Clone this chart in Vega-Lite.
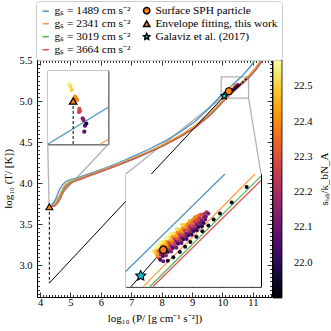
{
  "$schema": "https://vega.github.io/schema/vega-lite/v6.json",
  "autosize": {"type": "none"},
  "padding": {"left": 37, "top": 60, "right": 59, "bottom": 34},
  "width": 235,
  "height": 237,
  "config": {
    "view": {"stroke": null},
    "font": "Liberation Serif",
    "axis": {"grid": false, "domainColor": "black", "tickColor": "black", "labelColor": "black", "titleColor": "black", "labelFont": "Liberation Serif", "titleFont": "Liberation Serif", "labelFontSize": 10.5, "titleFontSize": 11, "titleFontWeight": "normal", "domainWidth": 1, "tickWidth": 0.8}
  },
  "datasets": {
    "curves": [
      {"series": "gₛ = 1489 cm s⁻²", "x": 4.295, "y": 3.703}, {"series": "gₛ = 1489 cm s⁻²", "x": 4.38, "y": 3.72}, {"series": "gₛ = 1489 cm s⁻²", "x": 4.46, "y": 3.76}, {"series": "gₛ = 1489 cm s⁻²", "x": 4.52, "y": 3.81}, {"series": "gₛ = 1489 cm s⁻²", "x": 4.58, "y": 3.87}, {"series": "gₛ = 1489 cm s⁻²", "x": 4.65, "y": 3.93}, {"series": "gₛ = 1489 cm s⁻²", "x": 4.74, "y": 3.98}, {"series": "gₛ = 1489 cm s⁻²", "x": 4.86, "y": 4.02}, {"series": "gₛ = 1489 cm s⁻²", "x": 5.0, "y": 4.04}, {"series": "gₛ = 1489 cm s⁻²", "x": 5.2, "y": 4.06}, {"series": "gₛ = 1489 cm s⁻²", "x": 5.6, "y": 4.11}, {"series": "gₛ = 1489 cm s⁻²", "x": 6.1, "y": 4.175}, {"series": "gₛ = 1489 cm s⁻²", "x": 6.6, "y": 4.25}, {"series": "gₛ = 1489 cm s⁻²", "x": 7.1, "y": 4.33}, {"series": "gₛ = 1489 cm s⁻²", "x": 7.6, "y": 4.415}, {"series": "gₛ = 1489 cm s⁻²", "x": 8.1, "y": 4.51}, {"series": "gₛ = 1489 cm s⁻²", "x": 8.6, "y": 4.62}, {"series": "gₛ = 1489 cm s⁻²", "x": 9.1, "y": 4.75}, {"series": "gₛ = 1489 cm s⁻²", "x": 9.5, "y": 4.89}, {"series": "gₛ = 1489 cm s⁻²", "x": 9.96, "y": 5.07}, {"series": "gₛ = 1489 cm s⁻²", "x": 10.62, "y": 5.295}, {"series": "gₛ = 1489 cm s⁻²", "x": 10.85, "y": 5.39}, {"series": "gₛ = 1489 cm s⁻²", "x": 11.08, "y": 5.5},
      {"series": "gₛ = 2341 cm s⁻²", "x": 4.3, "y": 3.705}, {"series": "gₛ = 2341 cm s⁻²", "x": 4.42, "y": 3.72}, {"series": "gₛ = 2341 cm s⁻²", "x": 4.52, "y": 3.76}, {"series": "gₛ = 2341 cm s⁻²", "x": 4.59, "y": 3.81}, {"series": "gₛ = 2341 cm s⁻²", "x": 4.66, "y": 3.87}, {"series": "gₛ = 2341 cm s⁻²", "x": 4.73, "y": 3.93}, {"series": "gₛ = 2341 cm s⁻²", "x": 4.82, "y": 3.975}, {"series": "gₛ = 2341 cm s⁻²", "x": 4.94, "y": 4.01}, {"series": "gₛ = 2341 cm s⁻²", "x": 5.1, "y": 4.035}, {"series": "gₛ = 2341 cm s⁻²", "x": 5.3, "y": 4.06}, {"series": "gₛ = 2341 cm s⁻²", "x": 5.6, "y": 4.1}, {"series": "gₛ = 2341 cm s⁻²", "x": 6.1, "y": 4.165}, {"series": "gₛ = 2341 cm s⁻²", "x": 6.6, "y": 4.235}, {"series": "gₛ = 2341 cm s⁻²", "x": 7.1, "y": 4.31}, {"series": "gₛ = 2341 cm s⁻²", "x": 7.6, "y": 4.39}, {"series": "gₛ = 2341 cm s⁻²", "x": 8.1, "y": 4.48}, {"series": "gₛ = 2341 cm s⁻²", "x": 8.6, "y": 4.58}, {"series": "gₛ = 2341 cm s⁻²", "x": 9.1, "y": 4.7}, {"series": "gₛ = 2341 cm s⁻²", "x": 9.6, "y": 4.86}, {"series": "gₛ = 2341 cm s⁻²", "x": 10.077, "y": 5.035}, {"series": "gₛ = 2341 cm s⁻²", "x": 10.5, "y": 5.182}, {"series": "gₛ = 2341 cm s⁻²", "x": 10.82, "y": 5.295}, {"series": "gₛ = 2341 cm s⁻²", "x": 11.05, "y": 5.39}, {"series": "gₛ = 2341 cm s⁻²", "x": 11.27, "y": 5.5},
      {"series": "gₛ = 3019 cm s⁻²", "x": 4.305, "y": 3.705}, {"series": "gₛ = 3019 cm s⁻²", "x": 4.46, "y": 3.72}, {"series": "gₛ = 3019 cm s⁻²", "x": 4.56, "y": 3.76}, {"series": "gₛ = 3019 cm s⁻²", "x": 4.63, "y": 3.81}, {"series": "gₛ = 3019 cm s⁻²", "x": 4.7, "y": 3.87}, {"series": "gₛ = 3019 cm s⁻²", "x": 4.77, "y": 3.925}, {"series": "gₛ = 3019 cm s⁻²", "x": 4.86, "y": 3.97}, {"series": "gₛ = 3019 cm s⁻²", "x": 4.98, "y": 4.005}, {"series": "gₛ = 3019 cm s⁻²", "x": 5.14, "y": 4.03}, {"series": "gₛ = 3019 cm s⁻²", "x": 5.34, "y": 4.055}, {"series": "gₛ = 3019 cm s⁻²", "x": 5.6, "y": 4.09}, {"series": "gₛ = 3019 cm s⁻²", "x": 6.1, "y": 4.155}, {"series": "gₛ = 3019 cm s⁻²", "x": 6.6, "y": 4.225}, {"series": "gₛ = 3019 cm s⁻²", "x": 7.1, "y": 4.3}, {"series": "gₛ = 3019 cm s⁻²", "x": 7.6, "y": 4.38}, {"series": "gₛ = 3019 cm s⁻²", "x": 8.1, "y": 4.465}, {"series": "gₛ = 3019 cm s⁻²", "x": 8.6, "y": 4.565}, {"series": "gₛ = 3019 cm s⁻²", "x": 9.1, "y": 4.68}, {"series": "gₛ = 3019 cm s⁻²", "x": 9.6, "y": 4.835}, {"series": "gₛ = 3019 cm s⁻²", "x": 10.12, "y": 5.035}, {"series": "gₛ = 3019 cm s⁻²", "x": 10.86, "y": 5.29}, {"series": "gₛ = 3019 cm s⁻²", "x": 11.08, "y": 5.38}, {"series": "gₛ = 3019 cm s⁻²", "x": 11.3, "y": 5.5},
      {"series": "gₛ = 3664 cm s⁻²", "x": 4.31, "y": 3.705}, {"series": "gₛ = 3664 cm s⁻²", "x": 4.49, "y": 3.72}, {"series": "gₛ = 3664 cm s⁻²", "x": 4.59, "y": 3.76}, {"series": "gₛ = 3664 cm s⁻²", "x": 4.67, "y": 3.81}, {"series": "gₛ = 3664 cm s⁻²", "x": 4.74, "y": 3.87}, {"series": "gₛ = 3664 cm s⁻²", "x": 4.81, "y": 3.92}, {"series": "gₛ = 3664 cm s⁻²", "x": 4.9, "y": 3.965}, {"series": "gₛ = 3664 cm s⁻²", "x": 5.02, "y": 4.0}, {"series": "gₛ = 3664 cm s⁻²", "x": 5.18, "y": 4.025}, {"series": "gₛ = 3664 cm s⁻²", "x": 5.38, "y": 4.05}, {"series": "gₛ = 3664 cm s⁻²", "x": 5.6, "y": 4.085}, {"series": "gₛ = 3664 cm s⁻²", "x": 6.1, "y": 4.15}, {"series": "gₛ = 3664 cm s⁻²", "x": 6.6, "y": 4.22}, {"series": "gₛ = 3664 cm s⁻²", "x": 7.1, "y": 4.295}, {"series": "gₛ = 3664 cm s⁻²", "x": 7.6, "y": 4.375}, {"series": "gₛ = 3664 cm s⁻²", "x": 8.1, "y": 4.46}, {"series": "gₛ = 3664 cm s⁻²", "x": 8.6, "y": 4.56}, {"series": "gₛ = 3664 cm s⁻²", "x": 9.1, "y": 4.675}, {"series": "gₛ = 3664 cm s⁻²", "x": 9.6, "y": 4.825}, {"series": "gₛ = 3664 cm s⁻²", "x": 10.14, "y": 5.035}, {"series": "gₛ = 3664 cm s⁻²", "x": 10.86, "y": 5.28}, {"series": "gₛ = 3664 cm s⁻²", "x": 11.1, "y": 5.38}, {"series": "gₛ = 3664 cm s⁻²", "x": 11.33, "y": 5.5}
    ],
    "inset1_lines": [
      {"series": "gₛ = 1489 cm s⁻²", "x": 4.2976, "y": 3.7047}, {"series": "gₛ = 1489 cm s⁻²", "x": 4.3176, "y": 3.70923},
      {"series": "gₛ = 2341 cm s⁻²", "x": 4.31486, "y": 3.7047}, {"series": "gₛ = 2341 cm s⁻²", "x": 4.3176, "y": 3.70531}
    ],
    "inset2_lines": [
      {"series": "gₛ = 1489 cm s⁻²", "x": 9.96, "y": 5.07}, {"series": "gₛ = 1489 cm s⁻²", "x": 10.62, "y": 5.295},
      {"series": "gₛ = 2341 cm s⁻²", "x": 10.077, "y": 5.035}, {"series": "gₛ = 2341 cm s⁻²", "x": 10.82, "y": 5.295},
      {"series": "gₛ = 3019 cm s⁻²", "x": 10.12, "y": 5.035}, {"series": "gₛ = 3019 cm s⁻²", "x": 10.86, "y": 5.29},
      {"series": "gₛ = 3664 cm s⁻²", "x": 10.14, "y": 5.035}, {"series": "gₛ = 3664 cm s⁻²", "x": 10.86, "y": 5.28}
    ],
    "adiabat": [{"x": 4.306, "y": 2.78}, {"x": 10.21, "y": 5.12}],
    "inset2_adiabat": [{"x": 9.995, "y": 5.035}, {"x": 10.21, "y": 5.12}],
    "dashed": [{"x": 4.306, "y": 3.71}, {"x": 4.306, "y": 2.78}],
    "inset1_dashed": [{"x": 4.306, "y": 3.71}, {"x": 4.306, "y": 3.7047}],
    "markers": [
      {"label": "Surface SPH particle", "x": 10.21, "y": 5.12},
      {"label": "Envelope fitting, this work", "x": 4.306, "y": 3.71},
      {"label": "Galaviz et al. (2017)", "x": 10.06, "y": 5.06}
    ],
    "boxes": [
      {"box": "a", "x0": 4.2976, "x1": 4.3176, "y0": 3.7047, "y1": 3.7137},
      {"box": "b", "x0": 9.96, "x1": 10.86, "y0": 5.035, "y1": 5.295}
    ],
    "connectors": [
      {"id": "a", "x": 4.253, "y": 4.472}, {"id": "a", "x": 4.2976, "y": 3.7137},
      {"id": "b", "x": 6.247, "y": 4.472}, {"id": "b", "x": 4.3176, "y": 3.7137},
      {"id": "c", "x": 9.96, "y": 5.035}, {"id": "c", "x": 6.819, "y": 4.11},
      {"id": "d", "x": 10.86, "y": 5.035}, {"id": "d", "x": 11.27, "y": 4.11}
    ],
    "scatter": [
      {"x": 10.150, "y": 5.117, "s": 22.52}, {"x": 10.163, "y": 5.112, "s": 22.47}, {"x": 10.172, "y": 5.106, "s": 22.40}, {"x": 10.183, "y": 5.100, "s": 22.30},
      {"x": 10.178, "y": 5.130, "s": 22.55}, {"x": 10.192, "y": 5.122, "s": 22.48}, {"x": 10.205, "y": 5.118, "s": 22.40}, {"x": 10.216, "y": 5.111, "s": 22.30}, {"x": 10.228, "y": 5.107, "s": 22.18},
      {"x": 10.212, "y": 5.139, "s": 22.53}, {"x": 10.224, "y": 5.133, "s": 22.46}, {"x": 10.240, "y": 5.127, "s": 22.37}, {"x": 10.251, "y": 5.121, "s": 22.27}, {"x": 10.262, "y": 5.116, "s": 22.15},
      {"x": 10.246, "y": 5.149, "s": 22.54}, {"x": 10.259, "y": 5.142, "s": 22.45}, {"x": 10.273, "y": 5.137, "s": 22.35}, {"x": 10.285, "y": 5.131, "s": 22.24}, {"x": 10.297, "y": 5.125, "s": 22.12},
      {"x": 10.280, "y": 5.158, "s": 22.52}, {"x": 10.294, "y": 5.152, "s": 22.43}, {"x": 10.307, "y": 5.146, "s": 22.33}, {"x": 10.318, "y": 5.141, "s": 22.22}, {"x": 10.331, "y": 5.136, "s": 22.08},
      {"x": 10.315, "y": 5.167, "s": 22.50}, {"x": 10.327, "y": 5.162, "s": 22.41}, {"x": 10.341, "y": 5.156, "s": 22.31}, {"x": 10.353, "y": 5.151, "s": 22.20}, {"x": 10.365, "y": 5.145, "s": 22.05},
      {"x": 10.350, "y": 5.177, "s": 22.47}, {"x": 10.362, "y": 5.171, "s": 22.39}, {"x": 10.375, "y": 5.166, "s": 22.29}, {"x": 10.387, "y": 5.160, "s": 22.17}, {"x": 10.399, "y": 5.155, "s": 22.02},
      {"x": 10.385, "y": 5.186, "s": 22.44}, {"x": 10.396, "y": 5.181, "s": 22.36}, {"x": 10.409, "y": 5.175, "s": 22.26}, {"x": 10.421, "y": 5.170, "s": 22.14}, {"x": 10.433, "y": 5.165, "s": 22.00},
      {"x": 10.420, "y": 5.195, "s": 22.40}, {"x": 10.431, "y": 5.190, "s": 22.33}, {"x": 10.443, "y": 5.185, "s": 22.23}, {"x": 10.455, "y": 5.180, "s": 22.11}, {"x": 10.467, "y": 5.174, "s": 21.98},
      {"x": 10.458, "y": 5.201, "s": 22.30}, {"x": 10.477, "y": 5.195, "s": 22.20}, {"x": 10.489, "y": 5.190, "s": 22.08},
      {"x": 10.497, "y": 5.207, "s": 22.22}, {"x": 10.510, "y": 5.204, "s": 22.12},
      {"x": 10.168, "y": 5.121, "s": 22.44}, {"x": 10.181, "y": 5.116, "s": 22.31}, {"x": 10.193, "y": 5.110, "s": 22.19}, {"x": 10.206, "y": 5.105, "s": 22.06},
      {"x": 10.202, "y": 5.131, "s": 22.43}, {"x": 10.215, "y": 5.126, "s": 22.30}, {"x": 10.227, "y": 5.120, "s": 22.18}, {"x": 10.240, "y": 5.115, "s": 22.05},
      {"x": 10.236, "y": 5.140, "s": 22.42}, {"x": 10.249, "y": 5.135, "s": 22.29}, {"x": 10.261, "y": 5.129, "s": 22.17}, {"x": 10.274, "y": 5.124, "s": 22.04},
      {"x": 10.270, "y": 5.150, "s": 22.41}, {"x": 10.283, "y": 5.145, "s": 22.28}, {"x": 10.295, "y": 5.139, "s": 22.16}, {"x": 10.308, "y": 5.134, "s": 22.03},
      {"x": 10.304, "y": 5.160, "s": 22.40}, {"x": 10.317, "y": 5.155, "s": 22.27}, {"x": 10.329, "y": 5.149, "s": 22.15}, {"x": 10.342, "y": 5.144, "s": 22.02},
      {"x": 10.338, "y": 5.169, "s": 22.40}, {"x": 10.351, "y": 5.164, "s": 22.27}, {"x": 10.363, "y": 5.158, "s": 22.15}, {"x": 10.376, "y": 5.153, "s": 22.02},
      {"x": 10.372, "y": 5.179, "s": 22.39}, {"x": 10.385, "y": 5.174, "s": 22.26}, {"x": 10.397, "y": 5.168, "s": 22.14}, {"x": 10.410, "y": 5.163, "s": 22.01},
      {"x": 10.406, "y": 5.189, "s": 22.38}, {"x": 10.419, "y": 5.184, "s": 22.25}, {"x": 10.431, "y": 5.178, "s": 22.13}, {"x": 10.444, "y": 5.173, "s": 22.00},
      {"x": 10.440, "y": 5.198, "s": 22.37}, {"x": 10.453, "y": 5.193, "s": 22.24}, {"x": 10.465, "y": 5.187, "s": 22.12}, {"x": 10.478, "y": 5.182, "s": 21.99},
      {"x": 10.481, "y": 5.203, "s": 22.23}, {"x": 10.493, "y": 5.197, "s": 22.11},
      {"x": 10.160, "y": 5.125, "s": 22.56}, {"x": 10.195, "y": 5.137, "s": 22.55}, {"x": 10.230, "y": 5.147, "s": 22.56}, {"x": 10.262, "y": 5.157, "s": 22.54}, {"x": 10.300, "y": 5.168, "s": 22.52}, {"x": 10.335, "y": 5.178, "s": 22.50},
      {"x": 10.24, "y": 5.095, "s": 21.95}, {"x": 10.277, "y": 5.103, "s": 21.93}, {"x": 10.32, "y": 5.115, "s": 21.96}, {"x": 10.355, "y": 5.127, "s": 21.94}, {"x": 10.39, "y": 5.138, "s": 21.92}, {"x": 10.43, "y": 5.15, "s": 21.95}, {"x": 10.47, "y": 5.163, "s": 21.93}, {"x": 10.51, "y": 5.176, "s": 21.94}, {"x": 10.545, "y": 5.19, "s": 21.92}, {"x": 10.587, "y": 5.204, "s": 21.93}, {"x": 10.665, "y": 5.229, "s": 21.92}, {"x": 10.765, "y": 5.265, "s": 21.93},
      {"x": 10.19, "y": 5.097, "s": 22.05}, {"x": 10.21, "y": 5.094, "s": 22.1},
      {"x": 4.30473, "y": 3.71207, "s": 22.55}, {"x": 4.30552, "y": 3.71134, "s": 22.5}, {"x": 4.30512, "y": 3.71177, "s": 22.52}, {"x": 4.30661, "y": 3.71052, "s": 22.42}, {"x": 4.30694, "y": 3.71036, "s": 22.4}, {"x": 4.30727, "y": 3.71012, "s": 22.38}, {"x": 4.30803, "y": 3.70902, "s": 22.3}, {"x": 4.30826, "y": 3.70877, "s": 22.28}, {"x": 4.30793, "y": 3.70865, "s": 22.27}, {"x": 4.30915, "y": 3.70788, "s": 22.15}, {"x": 4.30942, "y": 3.70767, "s": 22.13}, {"x": 4.30991, "y": 3.70697, "s": 22.05}, {"x": 4.31034, "y": 3.70724, "s": 21.98}, {"x": 4.30968, "y": 3.70624, "s": 22.08}
    ]
  },
  "layer": [
    {
      "layer": [
        {
          "data": {"name": "boxes"},
          "mark": {"type": "rect", "fillOpacity": 0, "stroke": "#b3b3b3", "strokeWidth": 1.3},
          "encoding": {
            "x": {"field": "x0", "type": "quantitative", "scale": {"domain": [3.9, 11.63], "nice": false, "zero": false}, "axis": {"orient": "top", "values": [4.1,4.2,4.3,4.4,4.5,4.6,4.7,4.8,4.9,5.1,5.2,5.3,5.4,5.5,5.6,5.7,5.8,5.9,6.1,6.2,6.3,6.4,6.5,6.6,6.7,6.8,6.9,7.1,7.2,7.3,7.4,7.5,7.6,7.7,7.8,7.9,8.1,8.2,8.3,8.4,8.5,8.6,8.7,8.8,8.9,9.1,9.2,9.3,9.4,9.5,9.6,9.7,9.8,9.9,10.1,10.2,10.3,10.4,10.5,10.6,10.7,10.8,10.9,11.1,11.2,11.3,11.4,11.5,11.6], "labels": false, "tickSize": -2.5, "domain": false, "title": null}},
            "x2": {"field": "x1"},
            "y": {"field": "y0", "type": "quantitative", "scale": {"domain": [2.61, 5.5], "nice": false, "zero": false}, "axis": {"orient": "right", "values": [2.65,2.7,2.75,2.8,2.85,2.9,2.95,3.05,3.1,3.15,3.2,3.25,3.3,3.35,3.4,3.45,3.55,3.6,3.65,3.7,3.75,3.8,3.85,3.9,3.95,4.05,4.1,4.15,4.2,4.25,4.3,4.35,4.4,4.45,4.55,4.6,4.65,4.7,4.75,4.8,4.85,4.9,4.95,5.05,5.1,5.15,5.2,5.25,5.3,5.35,5.4,5.45], "labels": false, "tickSize": -2.5, "domain": false, "title": null}},
            "y2": {"field": "y1"}
          }
        },
        {
          "data": {"name": "connectors"},
          "mark": {"type": "line", "stroke": "#b3b3b3", "strokeWidth": 1.3},
          "encoding": {
            "x": {"field": "x", "type": "quantitative", "scale": {"domain": [3.9, 11.63], "nice": false, "zero": false}, "axis": {"orient": "top", "values": [4,5,6,7,8,9,10,11], "labels": false, "tickSize": -5, "title": null}},
            "y": {"field": "y", "type": "quantitative", "scale": {"domain": [2.61, 5.5], "nice": false, "zero": false}, "axis": {"orient": "right", "values": [3,3.5,4,4.5,5,5.5], "labels": false, "tickSize": -5, "title": "sᵢ,ₛ/k_bN_A", "titleAngle": 270, "titlePadding": 57, "titleFontSize": 11}},
            "detail": {"field": "id"}
          }
        },
        {
          "data": {"name": "curves"},
          "mark": {"type": "line", "strokeWidth": 1.3},
          "encoding": {
            "x": {"field": "x", "type": "quantitative", "scale": {"domain": [3.9, 11.63], "nice": false, "zero": false}, "axis": {"orient": "bottom", "values": [4,5,6,7,8,9,10,11], "format": "d", "tickSize": -5, "labelPadding": 5, "title": "log₁₀ (P/ [g cm⁻¹ s⁻²])", "titlePadding": 5}},
            "y": {"field": "y", "type": "quantitative", "scale": {"domain": [2.61, 5.5], "nice": false, "zero": false}, "axis": {"orient": "left", "values": [3,3.5,4,4.5,5,5.5], "format": ".1f", "tickSize": -5, "labelPadding": 10, "title": "log₁₀ (T/ [K])", "titlePadding": 5}},
            "detail": {"field": "series"},
            "stroke": {"condition": [{"test": "indexof(datum.series, '1489') > 0", "value": "#4c92c3"}, {"test": "indexof(datum.series, '2341') > 0", "value": "#ff993e"}, {"test": "indexof(datum.series, '3019') > 0", "value": "#56b356"}], "value": "#de5253"}
          }
        },
        {
          "data": {"name": "adiabat"},
          "mark": {"type": "line", "color": "black", "strokeWidth": 1},
          "encoding": {
            "x": {"field": "x", "type": "quantitative", "scale": {"domain": [3.9, 11.63], "nice": false, "zero": false}, "axis": {"orient": "bottom", "values": [4.1,4.2,4.3,4.4,4.5,4.6,4.7,4.8,4.9,5.1,5.2,5.3,5.4,5.5,5.6,5.7,5.8,5.9,6.1,6.2,6.3,6.4,6.5,6.6,6.7,6.8,6.9,7.1,7.2,7.3,7.4,7.5,7.6,7.7,7.8,7.9,8.1,8.2,8.3,8.4,8.5,8.6,8.7,8.8,8.9,9.1,9.2,9.3,9.4,9.5,9.6,9.7,9.8,9.9,10.1,10.2,10.3,10.4,10.5,10.6,10.7,10.8,10.9,11.1,11.2,11.3,11.4,11.5,11.6], "labels": false, "tickSize": -2.5, "domain": false, "title": null}},
            "y": {"field": "y", "type": "quantitative", "scale": {"domain": [2.61, 5.5], "nice": false, "zero": false}, "axis": {"orient": "left", "values": [2.65,2.7,2.75,2.8,2.85,2.9,2.95,3.05,3.1,3.15,3.2,3.25,3.3,3.35,3.4,3.45,3.55,3.6,3.65,3.7,3.75,3.8,3.85,3.9,3.95,4.05,4.1,4.15,4.2,4.25,4.3,4.35,4.4,4.45,4.55,4.6,4.65,4.7,4.75,4.8,4.85,4.9,4.95,5.05,5.1,5.15,5.2,5.25,5.3,5.35,5.4,5.45], "labels": false, "tickSize": -2.5, "domain": false, "title": null}}
          }
        },
        {
          "data": {"name": "dashed"},
          "mark": {"type": "line", "color": "black", "strokeWidth": 1, "strokeDash": [3, 2]},
          "encoding": {
            "x": {"field": "x", "type": "quantitative", "scale": {"domain": [3.9, 11.63], "nice": false, "zero": false}, "axis": null},
            "y": {"field": "y", "type": "quantitative", "scale": {"domain": [2.61, 5.5], "nice": false, "zero": false}, "axis": null}
          }
        },
        {
          "data": {"name": "scatter"},
          "mark": {"type": "circle", "size": 4, "opacity": 1},
          "encoding": {
            "x": {"field": "x", "type": "quantitative", "scale": {"domain": [3.9, 11.63], "nice": false, "zero": false}, "axis": null},
            "y": {"field": "y", "type": "quantitative", "scale": {"domain": [2.61, 5.5], "nice": false, "zero": false}, "axis": null},
            "fill": {"field": "s", "type": "quantitative", "scale": {"scheme": "inferno", "domain": [21.9, 22.575], "nice": false, "zero": false},
              "legend": {"orient": "none", "legendX": 236, "legendY": 0, "direction": "vertical", "gradientLength": 238, "gradientThickness": 9, "gradientStrokeColor": "black", "gradientStrokeWidth": 0.8, "values": [22.0, 22.1, 22.2, 22.3, 22.4, 22.5], "format": ".1f", "labelFont": "Liberation Serif", "labelFontSize": 10.5, "labelColor": "black", "labelOffset": 12, "title": null}}
          }
        },
        {
          "data": {"name": "markers"},
          "mark": {"type": "point", "filled": true, "strokeWidth": 1.1, "opacity": 1},
          "encoding": {
            "x": {"field": "x", "type": "quantitative", "scale": {"domain": [3.9, 11.63], "nice": false, "zero": false}, "axis": null},
            "y": {"field": "y", "type": "quantitative", "scale": {"domain": [2.61, 5.5], "nice": false, "zero": false}, "axis": null},
            "color": {"field": "label", "type": "nominal",
              "scale": {"domain": ["gₛ = 1489 cm s⁻²", "gₛ = 2341 cm s⁻²", "gₛ = 3019 cm s⁻²", "gₛ = 3664 cm s⁻²", "Surface SPH particle", "Envelope fitting, this work", "Galaviz et al. (2017)"], "range": ["#ffffff", "#ffffff", "#ffffff", "#ffffff", "#ff7f0e", "#ff7f0e", "#17becf"]},
              "legend": {"orient": "none", "legendX": -1, "legendY": -59, "columns": 2, "columnPadding": 9, "rowPadding": 0, "padding": 4, "strokeColor": "#cccccc", "fillColor": "white", "cornerRadius": 3, "labelFont": "Liberation Serif", "labelFontSize": 11.4, "labelColor": "black", "labelOffset": 3, "symbolSize": 40, "symbolStrokeWidth": 1.5, "title": null}},
            "stroke": {"field": "label", "type": "nominal",
              "scale": {"domain": ["gₛ = 1489 cm s⁻²", "gₛ = 2341 cm s⁻²", "gₛ = 3019 cm s⁻²", "gₛ = 3664 cm s⁻²", "Surface SPH particle", "Envelope fitting, this work", "Galaviz et al. (2017)"], "range": ["#4c92c3", "#ff993e", "#56b356", "#de5253", "#000000", "#000000", "#000000"]},
              "legend": {"orient": "none", "legendX": -1, "legendY": -59, "columns": 2, "columnPadding": 9, "rowPadding": 0, "padding": 4, "strokeColor": "#cccccc", "fillColor": "white", "cornerRadius": 3, "labelFont": "Liberation Serif", "labelFontSize": 11.4, "labelColor": "black", "labelOffset": 3, "symbolSize": 40, "symbolStrokeWidth": 1.5, "title": null}},
            "shape": {"field": "label", "type": "nominal",
              "scale": {"domain": ["gₛ = 1489 cm s⁻²", "gₛ = 2341 cm s⁻²", "gₛ = 3019 cm s⁻²", "gₛ = 3664 cm s⁻²", "Surface SPH particle", "Envelope fitting, this work", "Galaviz et al. (2017)"], "range": ["stroke", "stroke", "stroke", "stroke", "circle", "triangle-up", "M0,-1L0.2939,-0.4045L0.9511,-0.309L0.4755,0.1545L0.5878,0.809L0,0.5L-0.5878,0.809L-0.4755,0.1545L-0.9511,-0.309L-0.2939,-0.4045Z"]},
              "legend": {"orient": "none", "legendX": -1, "legendY": -59, "columns": 2, "columnPadding": 9, "rowPadding": 0, "padding": 4, "strokeColor": "#cccccc", "fillColor": "white", "cornerRadius": 3, "labelFont": "Liberation Serif", "labelFontSize": 11.4, "labelColor": "black", "labelOffset": 3, "symbolSize": 40, "symbolStrokeWidth": 1.5, "title": null}},
            "size": {"field": "label", "type": "nominal", "scale": {"domain": ["Surface SPH particle", "Envelope fitting, this work", "Galaviz et al. (2017)"], "range": [45, 50, 95]}, "legend": null}
          }
        }
      ],
      "resolve": {"axis": {"x": "independent", "y": "independent"}}
    },
    {
      "layer": [
        {
          "data": {"values": [{}]},
          "mark": {"type": "rect", "fill": "white"},
          "encoding": {
            "x": {"datum": 4.2976, "type": "quantitative", "scale": {"domain": [4.2976, 4.3176], "range": [10.7, 71.3], "nice": false, "zero": false}, "axis": {"orient": "bottom", "offset": -152.7, "values": [4.3014], "labels": false, "tickSize": -4, "title": null}},
            "x2": {"datum": 4.3176},
            "y": {"datum": 3.7047, "type": "quantitative", "scale": {"domain": [3.7047, 3.7137], "range": [84.3, 10.7], "nice": false, "zero": false}, "axis": {"orient": "left", "offset": -10.7, "values": [3.7068, 3.71], "labels": false, "tickSize": -4, "title": null}},
            "y2": {"datum": 3.7137}
          }
        },
        {
          "data": {"name": "inset1_lines"},
          "mark": {"type": "line", "strokeWidth": 1.2},
          "encoding": {
            "x": {"field": "x", "type": "quantitative", "scale": {"domain": [4.2976, 4.3176], "range": [10.7, 71.3], "nice": false, "zero": false}, "axis": {"orient": "top", "offset": -10.7, "values": [4.3014], "labels": false, "tickSize": -4, "title": null}},
            "y": {"field": "y", "type": "quantitative", "scale": {"domain": [3.7047, 3.7137], "range": [84.3, 10.7], "nice": false, "zero": false}, "axis": {"orient": "right", "offset": -163.7, "values": [3.7068, 3.71], "labels": false, "tickSize": -4, "title": null}},
            "detail": {"field": "series"},
            "stroke": {"condition": [{"test": "indexof(datum.series, '1489') > 0", "value": "#4c92c3"}, {"test": "indexof(datum.series, '2341') > 0", "value": "#ff993e"}, {"test": "indexof(datum.series, '3019') > 0", "value": "#56b356"}], "value": "#de5253"}
          }
        },
        {
          "data": {"name": "inset1_dashed"},
          "mark": {"type": "line", "color": "black", "strokeWidth": 1, "strokeDash": [3, 2]},
          "encoding": {
            "x": {"field": "x", "type": "quantitative", "scale": {"domain": [4.2976, 4.3176], "range": [10.7, 71.3], "nice": false, "zero": false}, "axis": null},
            "y": {"field": "y", "type": "quantitative", "scale": {"domain": [3.7047, 3.7137], "range": [84.3, 10.7], "nice": false, "zero": false}, "axis": null}
          }
        },
        {
          "data": {"name": "scatter"},
          "transform": [{"filter": {"field": "x", "range": [4.2976, 4.3176]}}, {"filter": {"field": "y", "range": [3.7047, 3.7137]}}],
          "mark": {"type": "circle", "size": 18, "opacity": 1},
          "encoding": {
            "x": {"field": "x", "type": "quantitative", "scale": {"domain": [4.2976, 4.3176], "range": [10.7, 71.3], "nice": false, "zero": false}, "axis": null},
            "y": {"field": "y", "type": "quantitative", "scale": {"domain": [3.7047, 3.7137], "range": [84.3, 10.7], "nice": false, "zero": false}, "axis": null},
            "fill": {"field": "s", "type": "quantitative", "scale": {"scheme": "inferno", "domain": [21.9, 22.575], "nice": false, "zero": false}, "legend": null}
          }
        },
        {
          "data": {"name": "markers"},
          "transform": [{"filter": "datum.label === 'Envelope fitting, this work'"}],
          "mark": {"type": "point", "shape": "triangle-up", "filled": true, "fill": "#ff7f0e", "stroke": "black", "strokeWidth": 1.3, "size": 55, "opacity": 1},
          "encoding": {
            "x": {"field": "x", "type": "quantitative", "scale": {"domain": [4.2976, 4.3176], "range": [10.7, 71.3], "nice": false, "zero": false}, "axis": null},
            "y": {"field": "y", "type": "quantitative", "scale": {"domain": [3.7047, 3.7137], "range": [84.3, 10.7], "nice": false, "zero": false}, "axis": null}
          }
        }
      ],
      "resolve": {"axis": {"x": "independent", "y": "independent"}}
    },
    {
      "layer": [
        {
          "data": {"values": [{}]},
          "mark": {"type": "rect", "fill": "white"},
          "encoding": {
            "x": {"datum": 9.96, "type": "quantitative", "scale": {"domain": [9.96, 10.86], "range": [88.7, 224], "nice": false, "zero": false}, "axis": {"orient": "bottom", "offset": -10.3, "values": [10.0, 10.2, 10.4, 10.6, 10.8], "labels": false, "tickSize": -4, "title": null}},
            "x2": {"datum": 10.86},
            "y": {"datum": 5.035, "type": "quantitative", "scale": {"domain": [5.035, 5.295], "range": [226.7, 114], "nice": false, "zero": false}, "axis": {"orient": "left", "offset": -88.7, "values": [5.05, 5.1, 5.15, 5.2, 5.25], "labels": false, "tickSize": -4, "title": null}},
            "y2": {"datum": 5.295}
          }
        },
        {
          "data": {"name": "inset2_lines"},
          "mark": {"type": "line", "strokeWidth": 1.2},
          "encoding": {
            "x": {"field": "x", "type": "quantitative", "scale": {"domain": [9.96, 10.86], "range": [88.7, 224], "nice": false, "zero": false}, "axis": {"orient": "top", "offset": -114, "values": [10.0, 10.2, 10.4, 10.6, 10.8], "labels": false, "tickSize": -4, "title": null}},
            "y": {"field": "y", "type": "quantitative", "scale": {"domain": [5.035, 5.295], "range": [226.7, 114], "nice": false, "zero": false}, "axis": {"orient": "right", "offset": -11, "values": [5.05, 5.1, 5.15, 5.2, 5.25], "labels": false, "tickSize": -4, "title": null}},
            "detail": {"field": "series"},
            "stroke": {"condition": [{"test": "indexof(datum.series, '1489') > 0", "value": "#4c92c3"}, {"test": "indexof(datum.series, '2341') > 0", "value": "#ff993e"}, {"test": "indexof(datum.series, '3019') > 0", "value": "#56b356"}], "value": "#de5253"}
          }
        },
        {
          "data": {"name": "inset2_adiabat"},
          "mark": {"type": "line", "color": "black", "strokeWidth": 1},
          "encoding": {
            "x": {"field": "x", "type": "quantitative", "scale": {"domain": [9.96, 10.86], "range": [88.7, 224], "nice": false, "zero": false}, "axis": null},
            "y": {"field": "y", "type": "quantitative", "scale": {"domain": [5.035, 5.295], "range": [226.7, 114], "nice": false, "zero": false}, "axis": null}
          }
        },
        {
          "data": {"name": "scatter"},
          "transform": [{"filter": {"field": "x", "range": [9.96, 10.86]}}, {"filter": {"field": "y", "range": [5.035, 5.295]}}],
          "mark": {"type": "circle", "size": 16, "opacity": 1},
          "encoding": {
            "x": {"field": "x", "type": "quantitative", "scale": {"domain": [9.96, 10.86], "range": [88.7, 224], "nice": false, "zero": false}, "axis": null},
            "y": {"field": "y", "type": "quantitative", "scale": {"domain": [5.035, 5.295], "range": [226.7, 114], "nice": false, "zero": false}, "axis": null},
            "fill": {"field": "s", "type": "quantitative", "scale": {"scheme": "inferno", "domain": [21.9, 22.575], "nice": false, "zero": false}, "legend": null}
          }
        },
        {
          "data": {"name": "markers"},
          "transform": [{"filter": "datum.label === 'Surface SPH particle'"}],
          "mark": {"type": "point", "shape": "circle", "filled": true, "fill": "#ff7f0e", "stroke": "black", "strokeWidth": 1.4, "size": 55, "opacity": 1},
          "encoding": {
            "x": {"field": "x", "type": "quantitative", "scale": {"domain": [9.96, 10.86], "range": [88.7, 224], "nice": false, "zero": false}, "axis": null},
            "y": {"field": "y", "type": "quantitative", "scale": {"domain": [5.035, 5.295], "range": [226.7, 114], "nice": false, "zero": false}, "axis": null}
          }
        },
        {
          "data": {"name": "markers"},
          "transform": [{"filter": "datum.label === 'Galaviz et al. (2017)'"}],
          "mark": {"type": "point", "shape": "M0,-1L0.2939,-0.4045L0.9511,-0.309L0.4755,0.1545L0.5878,0.809L0,0.5L-0.5878,0.809L-0.4755,0.1545L-0.9511,-0.309L-0.2939,-0.4045Z", "filled": true, "fill": "#17becf", "stroke": "black", "strokeWidth": 1.1, "size": 110, "opacity": 1},
          "encoding": {
            "x": {"field": "x", "type": "quantitative", "scale": {"domain": [9.96, 10.86], "range": [88.7, 224], "nice": false, "zero": false}, "axis": null},
            "y": {"field": "y", "type": "quantitative", "scale": {"domain": [5.035, 5.295], "range": [226.7, 114], "nice": false, "zero": false}, "axis": null}
          }
        }
      ],
      "resolve": {"axis": {"x": "independent", "y": "independent"}}
    }
  ],
  "resolve": {"scale": {"x": "independent", "y": "independent"}, "axis": {"x": "independent", "y": "independent"}}
}
